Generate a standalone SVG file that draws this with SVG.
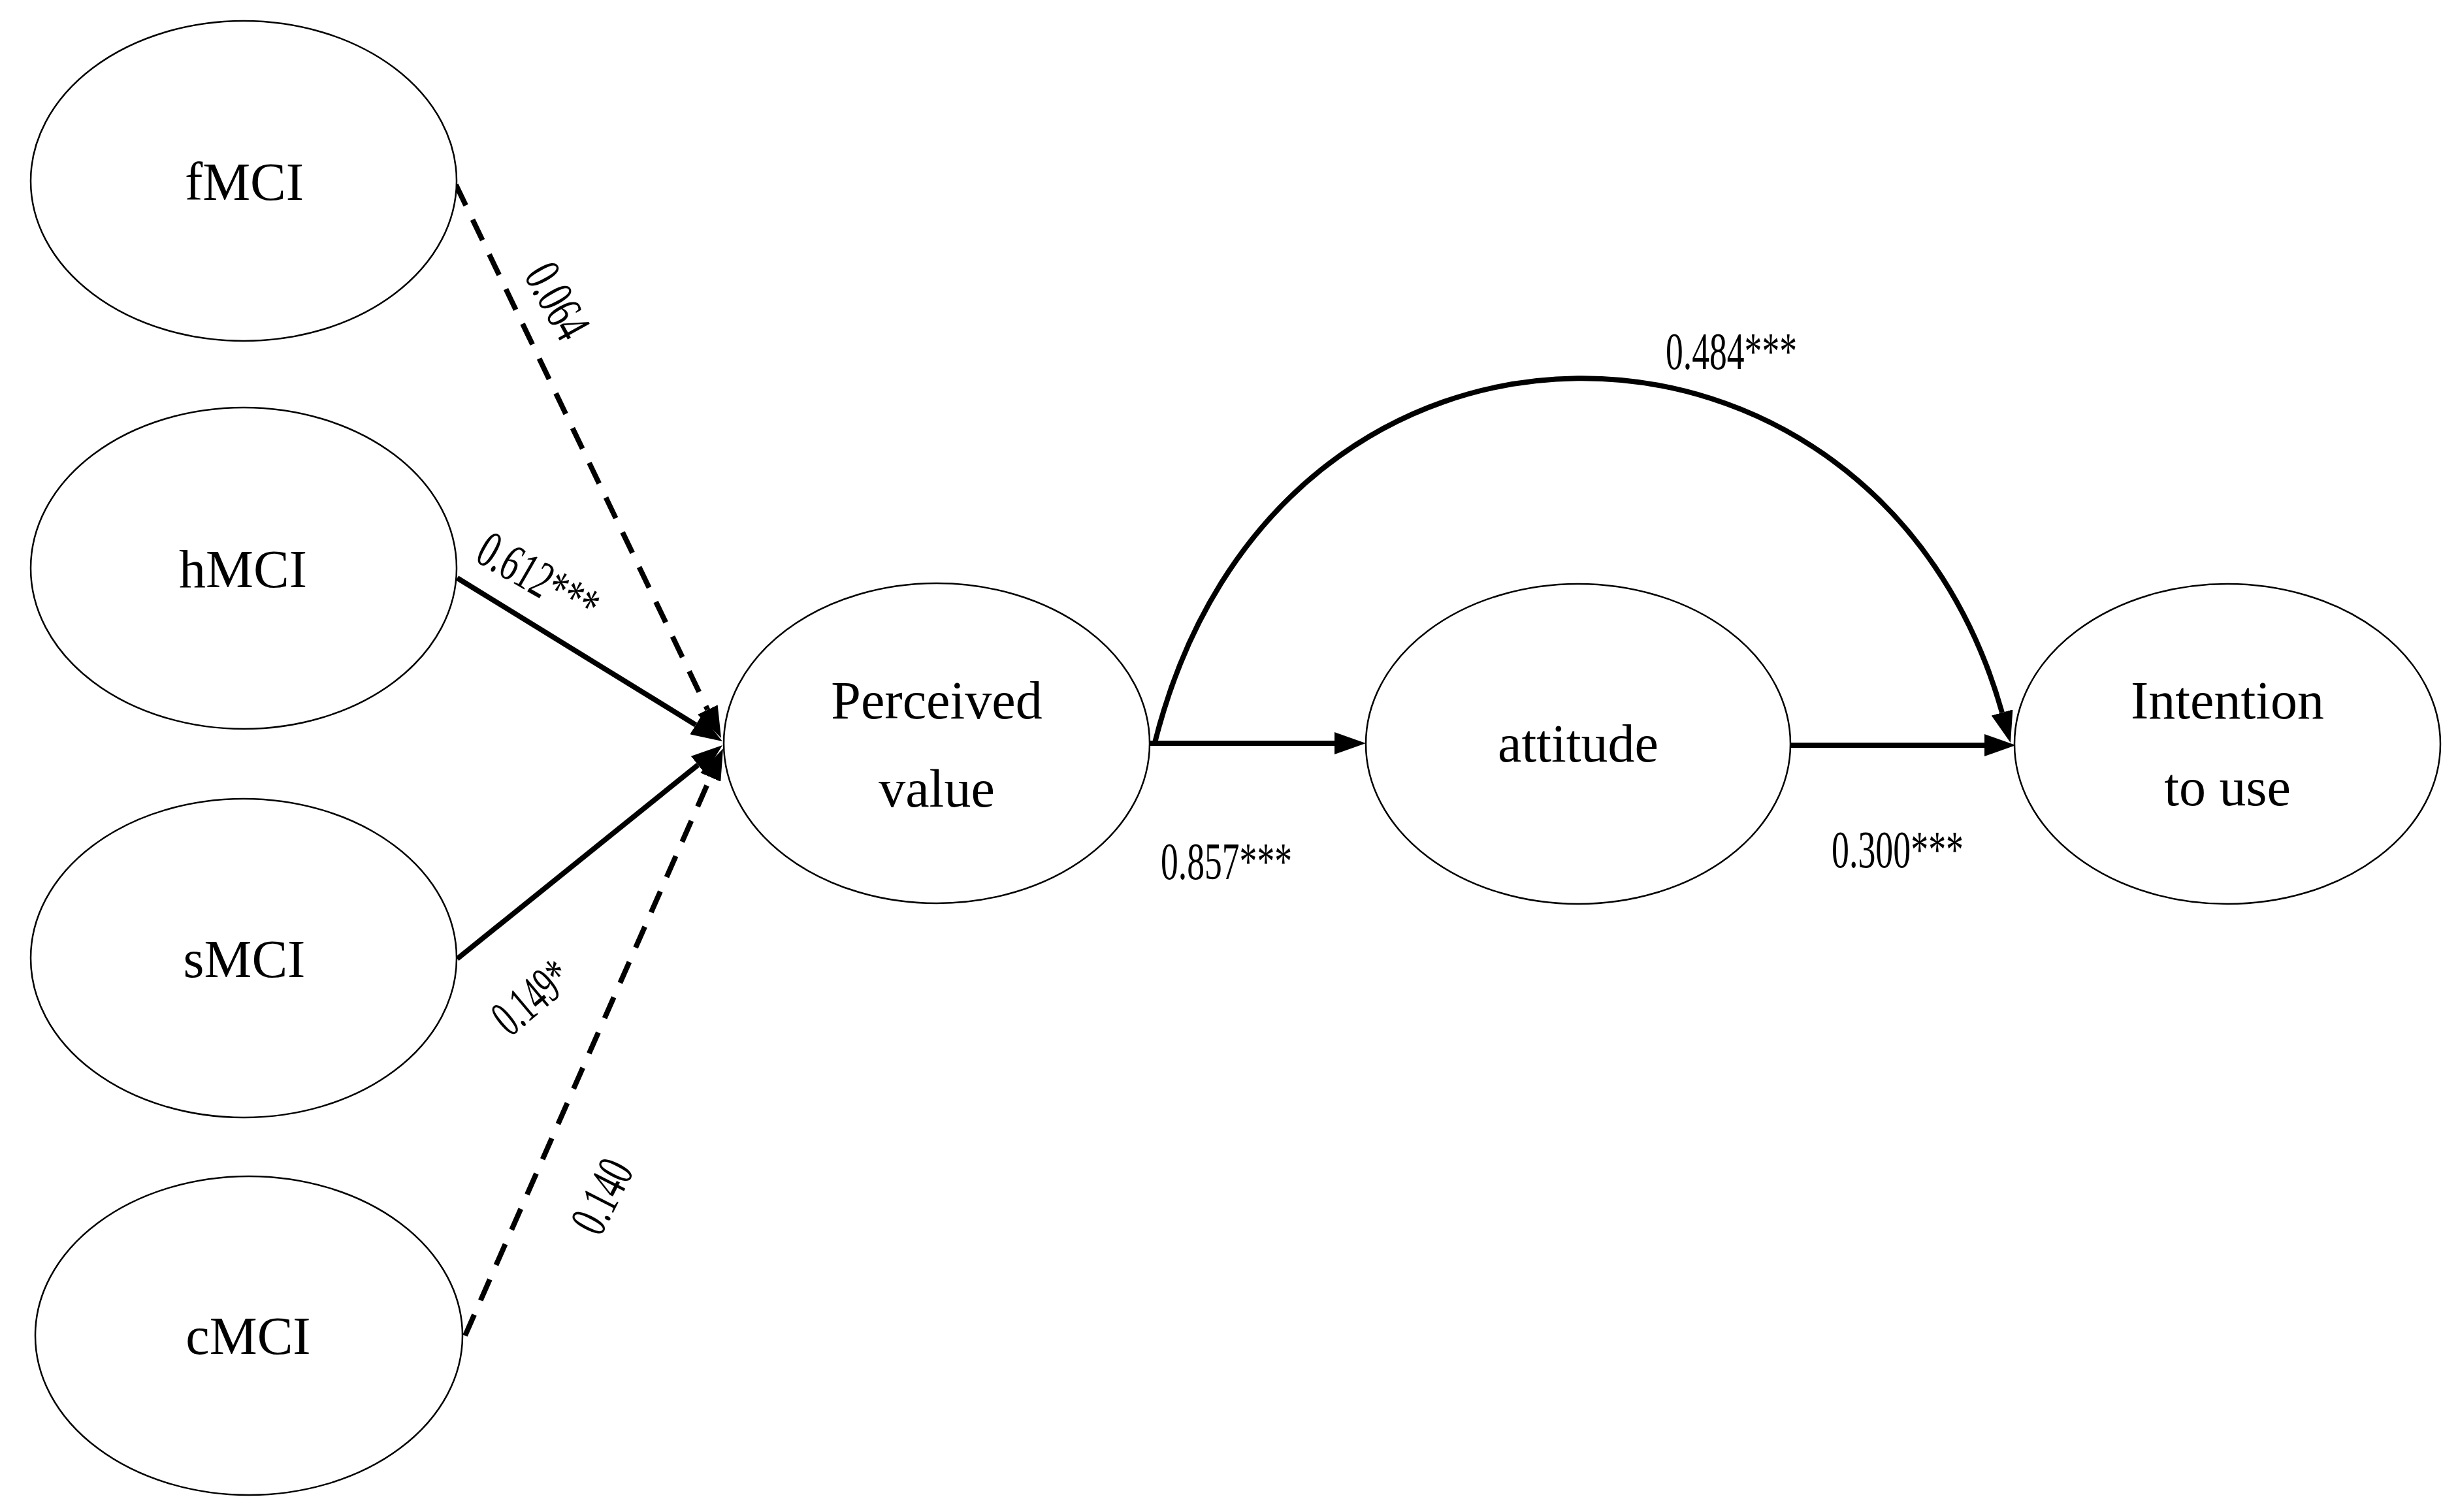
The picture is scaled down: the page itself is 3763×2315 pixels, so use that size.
<svg xmlns="http://www.w3.org/2000/svg" width="3763" height="2315" viewBox="0 0 3763 2315">
<style>
.node ellipse{fill:#fff;stroke:#000;stroke-width:2.5}
.lbl{font-family:"Liberation Serif","Times New Roman",serif;font-size:82px;fill:#000;text-anchor:middle}
.elbl{font-family:"Liberation Serif","Times New Roman",serif;font-size:80px;fill:#000}
.edge{stroke:#000;stroke-width:8;fill:none}
.dash{stroke-dasharray:35 24}
</style>
<defs>
<marker id="ah" viewBox="0 -17 48 34" markerWidth="48" markerHeight="34" refX="0" refY="0" orient="auto" markerUnits="userSpaceOnUse">
<path d="M0,-17 L48,0 L0,17 z" fill="#000"/>
</marker>
</defs>
<rect width="3763" height="2315" fill="#fff"/>
<g id="connectors">
<line class="edge dash" x1="698" y1="283" x2="1083.3" y2="1086.7" marker-end="url(#ah)"/>
<line class="edge" x1="700" y1="885" x2="1065.1" y2="1109.8" marker-end="url(#ah)"/>
<line class="edge" x1="700" y1="1468" x2="1068.6" y2="1171.1" marker-end="url(#ah)"/>
<line class="edge dash" x1="712" y1="2045" x2="1087.7" y2="1190" marker-end="url(#ah)"/>
<line class="edge" x1="1760" y1="1138" x2="2043" y2="1138" marker-end="url(#ah)"/>
<line class="edge" x1="2741" y1="1141" x2="3038" y2="1141" marker-end="url(#ah)"/>
<path class="edge" d="M1768,1137 C1955,390 2874,412 3065,1091" marker-end="url(#ah)"/>
<text class="elbl" transform="translate(853,461) rotate(61)" x="-60" y="26" textLength="120" lengthAdjust="spacingAndGlyphs">0.064</text>
<text class="elbl" transform="translate(824,885) rotate(30)" x="-100" y="26" textLength="200" lengthAdjust="spacingAndGlyphs">0.612***</text>
<text class="elbl" transform="translate(814,1527) rotate(-40)" x="-65" y="26" textLength="130" lengthAdjust="spacingAndGlyphs">0.149*</text>
<text class="elbl" transform="translate(922,1832) rotate(-63)" x="-58" y="26" textLength="116" lengthAdjust="spacingAndGlyphs">0.140</text>
<text class="elbl" x="1777" y="1346" textLength="201" lengthAdjust="spacingAndGlyphs">0.857***</text>
<text class="elbl" x="2804" y="1328" textLength="202" lengthAdjust="spacingAndGlyphs">0.300***</text>
<text class="elbl" x="2550" y="565" textLength="201" lengthAdjust="spacingAndGlyphs">0.484***</text>
</g>
<g id="fMCI" class="node"><ellipse cx="373" cy="277" rx="326" ry="245"/><text class="lbl" x="374" y="306">fMCI</text></g>
<g id="hMCI" class="node"><ellipse cx="373" cy="870" rx="326" ry="246"/><text class="lbl" x="372" y="899">hMCI</text></g>
<g id="sMCI" class="node"><ellipse cx="373" cy="1467" rx="326" ry="244"/><text class="lbl" x="374" y="1496">sMCI</text></g>
<g id="cMCI" class="node"><ellipse cx="381" cy="2045" rx="327" ry="244"/><text class="lbl" x="380" y="2073">cMCI</text></g>
<g id="perceived-value" class="node"><ellipse cx="1434" cy="1138" rx="326" ry="245"/><text class="lbl" x="1434" y="1100">Perceived</text><text class="lbl" x="1434" y="1235">value</text></g>
<g id="attitude" class="node"><ellipse cx="2416" cy="1139" rx="325" ry="245"/><text class="lbl" x="2416" y="1166">attitude</text></g>
<g id="intention" class="node"><ellipse cx="3410" cy="1139" rx="326" ry="245"/><text class="lbl" x="3410" y="1100">Intention</text><text class="lbl" x="3410" y="1233">to use</text></g>
</svg>
